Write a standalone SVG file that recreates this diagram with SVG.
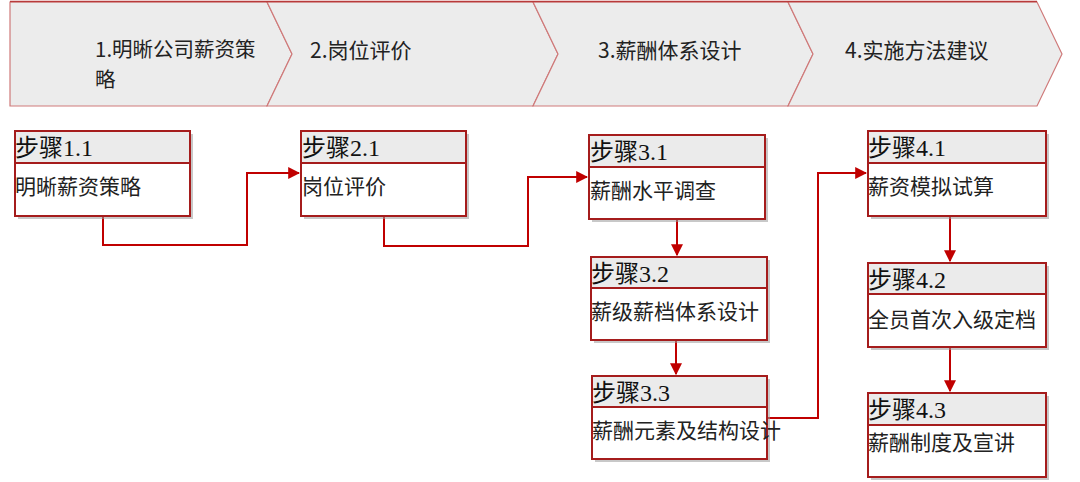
<svg xmlns="http://www.w3.org/2000/svg" width="1080" height="482" viewBox="0 0 1080 482">
<style>
.chev{fill:#ececec;stroke:#cf7a7a;stroke-width:1.2}
.ct{font-family:"Noto Sans CJK SC","Liberation Sans",sans-serif;font-size:21px;fill:#222}
.sh{fill:#9a9a9a;opacity:.55}
.bx{fill:#ffffff;stroke:#a51c1c;stroke-width:2}
.hd{fill:#ebebeb;stroke:#a51c1c;stroke-width:2}
.ht{font-family:"Liberation Serif","Noto Sans CJK SC",serif;font-size:24px;fill:#111}
.bt{font-family:"Noto Sans CJK SC","Liberation Sans",sans-serif;font-size:21px;fill:#222}
.cn{fill:none;stroke:#c00000;stroke-width:2}
</style>
<defs>
<marker id="ar" viewBox="0 0 10 10" refX="9" refY="5" markerWidth="6" markerHeight="6" orient="auto" markerUnits="strokeWidth">
<path d="M0,0 L10,5 L0,10 z" fill="#c00000"/>
</marker>
</defs>
<rect width="1080" height="482" fill="#ffffff"/>
<g id="phase1"><path class="chev" d="M10,2 L267,2 L292,54 L267,106 L10,106 z"/><text class="ct" x="95" y="57" style="font-size:20.5px">1.明晰公司薪资策</text><text class="ct" x="95" y="87" style="font-size:20.5px">略</text></g>
<g id="phase2"><path class="chev" d="M267,2 L533,2 L558,54 L533,106 L267,106 L292,54 z"/><text class="ct" x="310" y="58">2.岗位评价</text></g>
<g id="phase3"><path class="chev" d="M533,2 L788,2 L813,54 L788,106 L533,106 L558,54 z"/><text class="ct" x="598" y="58">3.薪酬体系设计</text></g>
<g id="phase4"><path class="chev" d="M788,2 L1037,2 L1062,54 L1037,106 L788,106 L813,54 z"/><text class="ct" x="845" y="58">4.实施方法建议</text></g>
<path d="M10,1.5 L1037,1.5" stroke="#b83a3a" stroke-width="1.5" fill="none"/>

<g id="connectors">
<path class="cn" d="M103,216 L103,245 L247,245 L247,173 L299,173" marker-end="url(#ar)"/>
<path class="cn" d="M384,216 L384,246 L528,246 L528,177 L587,177" marker-end="url(#ar)"/>
<path class="cn" d="M677,219 L677,255" marker-end="url(#ar)"/>
<path class="cn" d="M676,340 L676,374" marker-end="url(#ar)"/>
<path class="cn" d="M767,418 L818,418 L818,173 L866,173" marker-end="url(#ar)"/>
<path class="cn" d="M950,216 L950,261" marker-end="url(#ar)"/>
<path class="cn" d="M950,347 L950,391" marker-end="url(#ar)"/>
</g>

<g id="s11"><rect class="sh" x="18" y="134" width="175" height="85"/><rect class="bx" x="15" y="131" width="175" height="85"/><rect class="hd" x="15" y="131" width="175" height="32"/><text class="ht" x="15" y="156">步骤1.1</text><text class="bt" x="15" y="194">明晰薪资策略</text></g>
<g id="s21"><rect class="sh" x="304" y="134" width="165" height="85"/><rect class="bx" x="301" y="131" width="165" height="85"/><rect class="hd" x="301" y="131" width="165" height="32"/><text class="ht" x="302" y="156">步骤2.1</text><text class="bt" x="302" y="194">岗位评价</text></g>
<g id="s31"><rect class="sh" x="592" y="138" width="176" height="84"/><rect class="bx" x="589" y="135" width="176" height="84"/><rect class="hd" x="589" y="135" width="176" height="32"/><text class="ht" x="590" y="160">步骤3.1</text><text class="bt" x="590" y="198">薪酬水平调查</text></g>
<g id="s32"><rect class="sh" x="594" y="260" width="176" height="83"/><rect class="bx" x="591" y="257" width="176" height="83"/><rect class="hd" x="591" y="257" width="176" height="31"/><text class="ht" x="591" y="282">步骤3.2</text><text class="bt" x="591" y="319">薪级薪档体系设计</text></g>
<g id="s33"><rect class="sh" x="595" y="379" width="175" height="83"/><rect class="bx" x="592" y="376" width="175" height="83"/><rect class="hd" x="592" y="376" width="175" height="31"/><text class="ht" x="592" y="401">步骤3.3</text><text class="bt" x="592" y="438">薪酬元素及结构设计</text></g>
<g id="s41"><rect class="sh" x="871" y="134" width="178" height="85"/><rect class="bx" x="868" y="131" width="178" height="85"/><rect class="hd" x="868" y="131" width="178" height="32"/><text class="ht" x="868" y="156">步骤4.1</text><text class="bt" x="868" y="194">薪资模拟试算</text></g>
<g id="s42"><rect class="sh" x="871" y="266" width="178" height="84"/><rect class="bx" x="868" y="263" width="178" height="84"/><rect class="hd" x="868" y="263" width="178" height="31"/><text class="ht" x="868" y="288">步骤4.2</text><text class="bt" x="868" y="327">全员首次入级定档</text></g>
<g id="s43"><rect class="sh" x="871" y="396" width="178" height="84"/><rect class="bx" x="868" y="393" width="178" height="84"/><rect class="hd" x="868" y="393" width="178" height="32"/><text class="ht" x="868" y="418">步骤4.3</text><text class="bt" x="868" y="450">薪酬制度及宣讲</text></g>
</svg>
